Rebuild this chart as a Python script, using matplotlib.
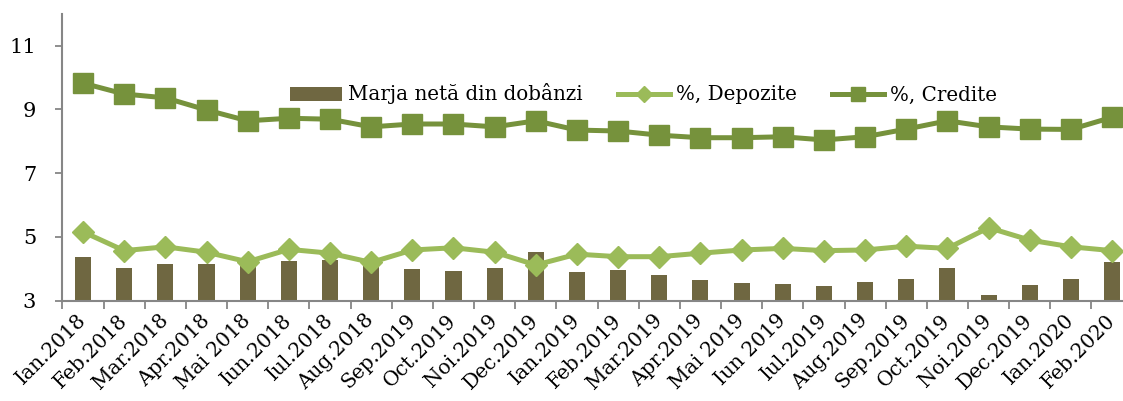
import matplotlib
matplotlib.use("Agg")
import matplotlib.pyplot as plt
import numpy as np

plt.rcParams['font.family'] = ['DejaVu Serif']

luni = ["Ian.2018", "Feb.2018", "Mar.2018", "Apr.2018", "Mai 2018", "Iun.2018",
        "Iul.2018", "Aug.2018", "Sep.2019", "Oct.2019", "Noi.2019", "Dec.2019",
        "Ian.2019", "Feb.2019", "Mar.2019", "Apr.2019", "Mai 2019", "Iun 2019",
        "Iul.2019", "Aug.2019", "Sep.2019", "Oct.2019", "Noi.2019", "Dec.2019",
        "Ian.2020", "Feb.2020"]

marja = [4.36, 4.03, 4.15, 4.15, 4.18, 4.24, 4.28, 4.15, 4.00, 3.94, 4.02, 4.52,
         3.91, 3.96, 3.82, 3.65, 3.55, 3.51, 3.47, 3.60, 3.68, 4.02, 3.18, 3.49,
         3.68, 4.22]

depozite = [5.16, 4.57, 4.69, 4.52, 4.22, 4.61, 4.49, 4.20, 4.59, 4.66, 4.52, 4.12,
            4.46, 4.38, 4.38, 4.49, 4.59, 4.64, 4.57, 4.59, 4.71, 4.64, 5.29, 4.90,
            4.69, 4.57]

credite = [9.82, 9.48, 9.36, 8.98, 8.64, 8.72, 8.69, 8.45, 8.54, 8.54, 8.45, 8.64,
           8.35, 8.32, 8.19, 8.11, 8.11, 8.14, 8.04, 8.14, 8.38, 8.64, 8.45, 8.38,
           8.37, 8.75]

x = np.arange(len(luni))

fig = plt.figure(figsize=(11.23, 4.01), dpi=100)
ax = fig.add_axes([0.0556, 0.2501, 0.9530, 0.7159])

b = ax.bar(x, marja, width=0.39, bottom=0, color='#6f6741', label='Marja netă din dobânzi', zorder=2)
l1, = ax.plot(x, depozite, color='#9bbb59', lw=3.6, marker='D', markersize=11,
              label='%, Depozite', zorder=3)
l2, = ax.plot(x, credite, color='#76923c', lw=3.6, marker='s', markersize=14,
              label='%, Credite', zorder=4)

ax.set_ylim(3, 12)
ax.set_yticks([3, 5, 7, 9, 11])
ax.set_xlim(-0.5, len(luni) - 0.5)
ax.set_xticks(x)
ax.set_xticklabels(luni, rotation=45, ha='right', va='center', rotation_mode='anchor')
ax.set_xticks(np.arange(len(luni) + 1) - 0.5, minor=True)
ax.tick_params(axis='x', which='major', length=0, labelsize=14.5, pad=12)
ax.tick_params(axis='x', which='minor', length=6, color='#868686', width=1.3)
ax.tick_params(axis='y', length=5, color='#868686', width=1.3, labelsize=15, pad=14)

for s in ['top', 'right']:
    ax.spines[s].set_visible(False)
for s in ['left', 'bottom']:
    ax.spines[s].set_color('#868686')
    ax.spines[s].set_linewidth(1.5)

fig.legend(handles=[b, l1, l2], loc='center left', bbox_to_anchor=(290 / 1123, 1 - 94 / 401),
           ncol=3, frameon=False, fontsize=14.3, borderpad=0, borderaxespad=0,
           handlelength=2.6, handletextpad=0.3, columnspacing=1.8, markerscale=0.7)

fig.savefig('out.png', dpi=100)
